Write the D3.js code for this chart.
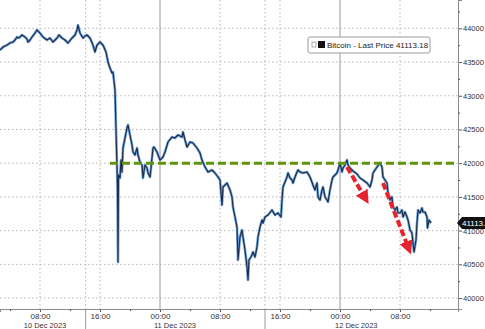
<!DOCTYPE html>
<html>
<head>
<meta charset="utf-8">
<script src="https://cdn.jsdelivr.net/npm/d3@7"></script>
<style>
  body { margin: 0; background: #fff; }
  svg { display: block; font-family: "Liberation Sans", Arial, sans-serif; }
</style>
</head>
<body>
<script>
// Bitcoin last price, 10-12 Dec 2023
var times = [
  "10 02:40","10 03:04","10 03:36","10 04:00","10 04:24","10 04:40","10 04:56","10 05:04","10 05:20","10 05:36",
  "10 06:00","10 06:16","10 06:24","10 06:40","10 06:56","10 07:20","10 07:36","10 07:44","10 08:00","10 08:24",
  "10 08:56","10 09:20","10 09:44","10 10:16","10 10:32","10 10:56","10 11:20","10 11:44","10 12:16","10 12:40",
  "10 12:56","10 13:04","10 13:20","10 13:44","10 14:00","10 14:16","10 14:40","10 15:04","10 15:20","10 15:36",
  "10 16:00","10 16:24","10 16:48","10 17:04","10 17:20","10 17:36","10 17:44","10 18:00","10 18:08","10 18:16",
  "10 18:20","10 18:24","10 18:28","10 18:40","10 18:48","10 18:56","10 19:04","10 19:20","10 19:36","10 19:44",
  "10 20:00","10 20:16","10 20:24","10 20:40","10 20:56","10 21:04","10 21:20","10 21:36","10 21:44","10 22:00",
  "10 22:16","10 22:24","10 22:40","10 22:48","10 23:04","10 23:12","10 23:36",
  "11 00:00","11 00:24","11 00:40","11 01:04","11 01:36","11 02:00","11 02:24","11 02:56","11 03:04","11 03:20",
  "11 03:36","11 04:00","11 04:24","11 04:56","11 05:20","11 05:36","11 06:00","11 06:24","11 06:56","11 07:20",
  "11 07:44","11 08:00","11 08:16","11 08:24","11 08:56","11 09:20","11 09:36","11 09:44","11 10:00","11 10:16",
  "11 10:24","11 10:40","11 10:56","11 11:04","11 11:20","11 11:36","11 11:44","11 11:52","11 12:08","11 12:24",
  "11 12:40","11 12:56","11 13:04","11 13:20","11 13:36","11 13:44","11 14:00","11 14:24","11 14:56","11 15:20",
  "11 15:44","11 16:08","11 16:16","11 16:24","11 16:40","11 16:56","11 17:04","11 17:20","11 17:36","11 17:44",
  "11 18:00","11 18:16","11 18:24","11 18:40","11 19:04","11 19:36","11 20:00","11 20:24","11 20:40","11 20:56",
  "11 21:04","11 21:20","11 21:36","11 21:44","11 22:00","11 22:16","11 22:24","11 22:40","11 22:56","11 23:04",
  "11 23:20","11 23:36","11 23:44",
  "12 00:00","12 00:16","12 00:24","12 00:40","12 00:56","12 01:04","12 01:20","12 01:44","12 02:16","12 02:40",
  "12 03:04","12 03:36","12 04:00","12 04:16","12 04:24","12 04:56","12 05:20","12 05:36","12 05:44","12 06:16",
  "12 06:24","12 06:40","12 06:56","12 07:04","12 07:20","12 07:36","12 07:44","12 08:00","12 08:16","12 08:24",
  "12 08:40","12 08:56","12 09:04","12 09:20","12 09:36","12 09:44","12 09:52","12 10:08","12 10:16","12 10:24",
  "12 10:40","12 10:56","12 11:04","12 11:20","12 11:36","12 11:40","12 11:52","12 12:08"
];
var prices = [
  43678,43723,43752,43782,43797,43827,43871,43856,43871,43901,
  43871,43841,43797,43827,43871,43930,43975,43960,43930,43871,
  43827,43856,43797,43856,43901,43856,43827,43782,43856,43901,
  43975,44049,43930,43856,43886,43901,43856,43752,43649,43752,
  43797,43752,43649,43500,43411,43337,43352,43085,42492,41973,
  41603,40535,41825,41781,42047,41870,42225,42374,42522,42566,
  42418,42270,42166,42122,42225,42122,42018,41973,41781,41973,
  41929,41855,41795,41929,42225,42240,42166,
  42047,42092,42166,42314,42388,42374,42418,42388,42463,42344,
  42240,42314,42299,42225,42151,42047,41944,41870,41899,41855,
  41795,41751,41380,41647,41706,41603,41499,41350,41202,41054,
  40565,40906,41010,40906,40713,40461,40268,40565,40609,40683,
  40609,40758,40906,41054,41158,41113,41202,41232,41306,41232,
  41262,41202,41454,41647,41721,41795,41855,41781,41751,41706,
  41795,41870,41899,41870,41855,41870,41795,41677,41603,41706,
  41499,41454,41603,41647,41499,41454,41425,41603,41751,41795,
  41825,41855,41899,
  42003,41870,41929,41973,42047,41973,41929,41884,41840,41781,
  41751,41706,41647,41751,41855,41944,42003,41944,41795,41706,
  41558,41454,41499,41350,41306,41350,41262,41262,41306,41202,
  41276,41202,41158,41010,40965,40817,40683,40861,41113,41306,
  41262,41336,41276,41276,41202,41039,41158,41113.18
];
var lastPrice = 41113.18;
var priceTicks = [40000,40500,41000,41500,42000,42500,43000,43500,44000];
var minorPriceTicks = [40250,40750,41250,41750,42250,42750,43250,43750,44250];
var hourTicks = ["10 08:00","10 16:00","11 00:00","11 08:00","11 16:00","12 00:00","12 08:00"];
var minorHourTicks = ["10 04:00","10 12:00","10 20:00","11 04:00","11 12:00","11 20:00","12 04:00","12 12:00"];
var midnights = ["11 00:00","12 00:00"];
var daySeparators = ["10 14:05","11 14:00"];
var dateLabels = ["10 Dec 2023","11 Dec 2023","12 Dec 2023"];
var dateLabelTimes = ["10 08:40","11 02:00","12 02:10"];
var support = {start: "10 17:20", level: 42000};
var arrows = [
  {from: ["12 00:56",41944], to: ["12 03:16",41500]},
  {from: ["12 05:44",41706], to: ["12 09:04",40760]}
];

var w = 485;
var h = 329;
var plotW = 458;
var plotH = 309;

var parse = function(s){ return d3.timeParse("%Y-%m-%d %H:%M")("2023-12-" + s); };

var data = times.map(function(t, i){ return {t: parse(t), p: prices[i]}; });

var x = d3.scaleTime()
  .domain([parse("10 02:40"), parse("12 15:44")])
  .range([0, plotW]);
var y = d3.scaleLinear()
  .domain([39838, 44420])
  .range([plotH, 0]);

var svg = d3.select("body")
  .append("svg")
  .attr("width", w)
  .attr("height", h);

// grid
svg.append("g").selectAll("line")
  .data(priceTicks)
  .enter()
  .append("line")
  .attr("x1", 0).attr("x2", plotW)
  .attr("y1", function(d){ return y(d); })
  .attr("y2", function(d){ return y(d); })
  .attr("stroke", "#b5b5b5")
  .attr("stroke-dasharray", "1.5,2.5");

svg.append("g").selectAll("line")
  .data(hourTicks.filter(function(d){ return midnights.indexOf(d) < 0; }).concat(daySeparators))
  .enter()
  .append("line")
  .attr("x1", function(d){ return x(parse(d)); })
  .attr("x2", function(d){ return x(parse(d)); })
  .attr("y1", 0).attr("y2", plotH)
  .attr("stroke", "#b5b5b5")
  .attr("stroke-dasharray", "1.5,2.5");

svg.append("g").selectAll("line")
  .data(midnights)
  .enter()
  .append("line")
  .attr("x1", function(d){ return x(parse(d)); })
  .attr("x2", function(d){ return x(parse(d)); })
  .attr("y1", 0).attr("y2", plotH)
  .attr("stroke", "#9a9a9a")
  .attr("stroke-width", 1);

svg.append("g").selectAll("line")
  .data(daySeparators)
  .enter()
  .append("line")
  .attr("x1", function(d){ return x(parse(d)); })
  .attr("x2", function(d){ return x(parse(d)); })
  .attr("y1", plotH).attr("y2", h)
  .attr("stroke", "#9a9a9a");

// axes
var yAxis = svg.append("g")
  .attr("transform", "translate(" + plotW + ",0)")
  .call(d3.axisRight(y).tickValues(priceTicks).tickSize(4).tickPadding(1).tickFormat(d3.format("d")));
svg.append("g")
  .attr("transform", "translate(" + plotW + ",0)")
  .call(d3.axisRight(y).tickValues(minorPriceTicks).tickSize(2).tickFormat(""));

var xAxis = svg.append("g")
  .attr("transform", "translate(0," + plotH + ")")
  .call(d3.axisBottom(x).tickValues(hourTicks.map(parse)).tickSize(3).tickPadding(1).tickFormat(d3.timeFormat("%H:%M")));
svg.append("g")
  .attr("transform", "translate(0," + plotH + ")")
  .call(d3.axisBottom(x).tickValues(minorHourTicks.map(parse)).tickSize(2).tickFormat(""));

svg.selectAll(".domain").attr("stroke", "#8a8a8a");
svg.selectAll(".tick line").attr("stroke", "#555");
yAxis.selectAll("text").attr("font-size", "7.5px").attr("fill", "#333").attr("font-family", "Liberation Sans, Arial");
xAxis.selectAll("text").attr("font-size", "8px").attr("fill", "#333").attr("font-family", "Liberation Sans, Arial");

svg.append("g").selectAll("text")
  .data(dateLabels)
  .enter()
  .append("text")
  .attr("x", function(d, i){ return x(parse(dateLabelTimes[i])); })
  .attr("y", 328)
  .attr("text-anchor", "middle")
  .attr("font-size", "7.5px")
  .attr("fill", "#333")
  .text(function(d){ return d; });

// price line
var line = d3.line()
  .x(function(d){ return x(d.t); })
  .y(function(d){ return y(d.p); });

svg.append("path")
  .datum(data)
  .attr("d", line)
  .attr("fill", "none")
  .attr("stroke", "#6c9fd6")
  .attr("stroke-width", 2.6)
  .attr("stroke-linejoin", "round");
svg.append("path")
  .datum(data)
  .attr("d", line)
  .attr("fill", "none")
  .attr("stroke", "#1d2b45")
  .attr("stroke-width", 1.1)
  .attr("stroke-linejoin", "round");

// 42000 support line
svg.append("line")
  .attr("x1", x(parse(support.start)))
  .attr("x2", plotW)
  .attr("y1", y(support.level))
  .attr("y2", y(support.level))
  .attr("stroke", "#5f9410")
  .attr("stroke-width", 3)
  .attr("stroke-dasharray", "8,4");

// red arrows
svg.append("defs").append("marker")
  .attr("id", "head")
  .attr("viewBox", "0 0 10 10")
  .attr("refX", 4).attr("refY", 5)
  .attr("markerWidth", 3.4).attr("markerHeight", 3.4)
  .attr("markerUnits", "strokeWidth")
  .attr("orient", "auto")
  .append("path")
  .attr("d", "M0,0L10,5L0,10Z")
  .attr("fill", "#e6232d");

svg.append("g").selectAll("line")
  .data(arrows)
  .enter()
  .append("line")
  .attr("x1", function(d){ return x(parse(d.from[0])); })
  .attr("y1", function(d){ return y(d.from[1]); })
  .attr("x2", function(d){ return x(parse(d.to[0])); })
  .attr("y2", function(d){ return y(d.to[1]); })
  .attr("stroke", "#e6232d")
  .attr("stroke-width", 4)
  .attr("stroke-dasharray", "7,3")
  .attr("marker-end", "url(#head)");

// legend
var legend = svg.append("g").attr("transform", "translate(308,37)");
legend.append("rect")
  .attr("width", 122).attr("height", 16).attr("rx", 2)
  .attr("fill", "#fff").attr("stroke", "#9a9a9a");
legend.append("rect")
  .attr("x", 4).attr("y", 5).attr("width", 4).attr("height", 5)
  .attr("fill", "#fff").attr("stroke", "#999").attr("stroke-width", 0.8);
legend.append("rect")
  .attr("x", 10).attr("y", 4).attr("width", 7).attr("height", 7)
  .attr("fill", "#111");
legend.append("text")
  .attr("x", 19).attr("y", 11)
  .attr("font-size", "8px").attr("fill", "#222")
  .text("Bitcoin - Last Price " + lastPrice);

// last price tag
var ty = y(lastPrice);
svg.append("path")
  .attr("d", "M" + (plotW - 1) + "," + ty + "L" + (plotW + 4) + "," + (ty - 6) + "L" + w + "," + (ty - 6) + "L" + w + "," + (ty + 6) + "L" + (plotW + 4) + "," + (ty + 6) + "Z")
  .attr("fill", "#111");
svg.append("text")
  .attr("x", plotW + 4)
  .attr("y", ty + 3)
  .attr("font-size", "8px")
  .attr("fill", "#fff")
  .text(lastPrice);
</script>
</body>
</html>
